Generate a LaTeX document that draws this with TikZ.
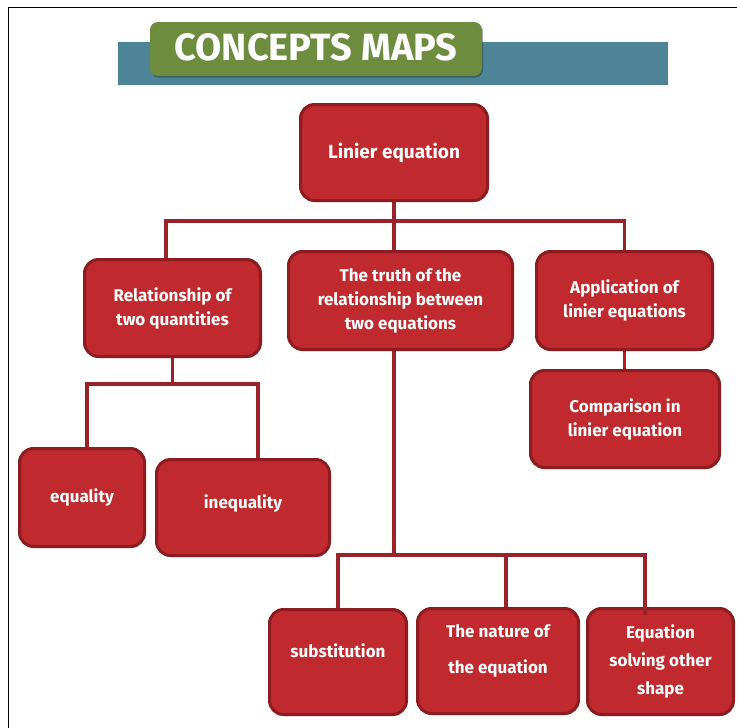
\documentclass[tikz,border=0pt]{standalone}
\usepackage{fontspec}
\setmainfont{Fira Sans}
\usetikzlibrary{shadows}
\definecolor{boxred}{HTML}{C0292E}
\definecolor{boxedge}{HTML}{8C1C1F}
\definecolor{linkred}{HTML}{98232A}
\definecolor{linkbright}{HTML}{C4161C}
\definecolor{titleteal}{HTML}{4E8596}
\definecolor{titlegreen}{HTML}{6E8C3E}
\pgfdeclarelayer{bg}
\pgfsetlayers{bg,main}
\newcommand{\mkbox}[7][]{%
  \node[box,#1,minimum width={#4-#2-3},minimum height={#5-#3-3}] (#6) at ({(#2+#4)/2},{(#3+#5)/2}) {#7};}
\begin{document}
\begin{tikzpicture}[x=1pt,y=-1pt,
  box/.style={draw=boxedge,line width=3pt,fill=boxred,rounded corners=14pt,text=white,
    font=\bfseries\fontsize{17}{24}\selectfont,align=center,inner sep=0pt,
    drop shadow={shadow xshift=1pt,shadow yshift=-1.5pt,fill=black,opacity=0.25}},
  link/.style={draw=linkred,line width=3.2pt}]
\useasboundingbox (0,0) rectangle (737,728);
% title
\fill[titleteal] (118,42) rectangle (668,85);
\node[fill=titlegreen,rounded corners=8pt,minimum width=332pt,minimum height=54pt,inner sep=0pt,
  drop shadow={shadow xshift=1pt,shadow yshift=-1.5pt,fill=black,opacity=0.3},
  text=white,font=\fontsize{38}{44}\selectfont] (title) at (316,49) {\raisebox{3pt}{\bfseries CONCEPTS MAPS}};
% boxes
\mkbox[font=\bfseries\fontsize{19}{24}\selectfont]{299}{103}{489}{202}{root}{Linier equation}
\mkbox{83}{258}{262}{358}{rel}{Relationship of\\two quantities}
\mkbox{287}{250}{514}{351}{truth}{The truth of the\\relationship between\\two equations}
\mkbox{535}{250}{714}{351}{app}{Application of\\linier equations}
\mkbox{529}{369}{721}{469}{comp}{Comparison in\\linier equation}
\mkbox{18}{447}{146}{548}{eq}{equality}
\mkbox[text depth=11pt]{155}{458}{331}{557}{ineq}{inequality}
\mkbox[text depth=23pt]{268}{608}{408}{716}{sub}{substitution}
\mkbox[text depth=24pt]{416}{607}{580}{715}{nat}{The nature of\\[12pt]the equation}
\mkbox[font=\bfseries\fontsize{17}{28}\selectfont]{586}{607}{735}{716}{oth}{Equation\\solving other\\shape}
% connectors and frame, behind the boxes
\begin{pgfonlayer}{bg}
\fill[white] (0,0) rectangle (737,728);
\draw[black,line width=1.3pt] (8.5,728) -- (8.5,7.5) -- (737,7.5);
\coordinate (j1) at (root.south |- 0,221);
\draw[link] (root.south) -- ([xshift=-6.5pt]truth.north);
\draw[link] (j1) -| ([xshift=-6.5pt]rel.north);
\draw[link] (j1) -| (app.north);
\draw[link,draw=linkbright] (app.south) -- (app.south |- comp.north);
\coordinate (j2) at (rel.south |- 0,384);
\draw[link] (rel.south) -- (j2);
\draw[link] (j2) -| ([xshift=5pt]eq.north);
\draw[link] (j2) -| ([xshift=15pt]ineq.north);
\coordinate (j3) at ([xshift=-6.5pt]truth.south |- 0,555);
\draw[link] ([xshift=-6.5pt]truth.south) -- (j3);
\draw[link] (j3) -| (sub.north);
\draw[link] (j3) -| ([xshift=8pt]nat.north);
\draw[link] (j3) -| ([xshift=-15.5pt]oth.north);
\end{pgfonlayer}
\draw[link] ([xshift=-15.5pt]oth.north) -- ++(0,8);
\end{tikzpicture}
\end{document}
